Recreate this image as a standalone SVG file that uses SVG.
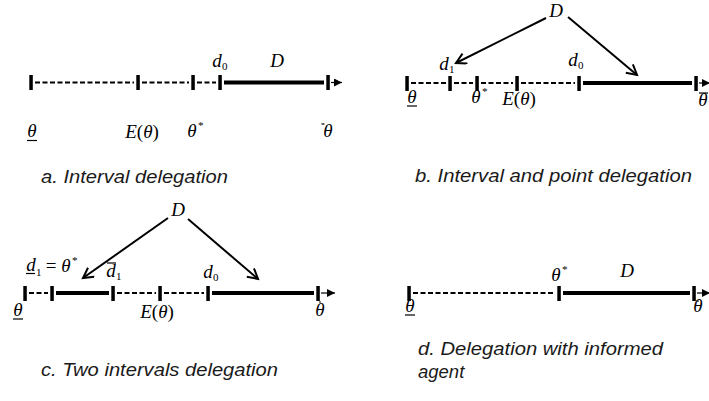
<svg xmlns="http://www.w3.org/2000/svg" width="709" height="401" viewBox="0 0 709 401">
<style>
.bg{fill:#fff}
.tick{fill:#000}
.dash{stroke:#000;stroke-width:2;stroke-dasharray:5 2.5;fill:none}
.solid{stroke:#000;stroke-width:4;fill:none}
.thin{stroke:#000;stroke-width:1.2;fill:none}
.ptr{stroke:#000;stroke-width:2;fill:none}
.m{font-family:"Liberation Serif","Times New Roman",serif;font-style:italic;font-size:19px;fill:#000}
.up{font-style:normal}
.sub{font-family:"Liberation Serif","Times New Roman",serif;font-size:11px;fill:#000}
.cap{font-family:"Liberation Sans",Arial,sans-serif;font-style:italic;font-size:18.5px;fill:#1a1a1a}
</style>
<defs>
<marker id="open" markerUnits="userSpaceOnUse" markerWidth="14" markerHeight="14" refX="11" refY="6" orient="auto">
<path d="M1,0.5 L11,6 L1,11.5" stroke="#000" stroke-width="2" fill="none"/>
</marker>
<marker id="tri" markerUnits="userSpaceOnUse" markerWidth="9" markerHeight="9" refX="8" refY="4" orient="auto">
<path d="M0,0 L8,4 L0,8 Z" fill="#000"/>
</marker>
</defs>
<rect class="bg" x="0" y="0" width="709" height="401"/>

<!-- Panel a -->
<g id="panel-a">
<g id="a-axis">
<path class="dash" d="M35,82.5 H134 M142,82.5 H189 M197,82.5 H216"/>
<path class="solid" d="M224,82.5 H324"/>
<path class="thin" d="M331,82.5 H342" marker-end="url(#tri)"/>
</g>
<g id="a-ticks">
<rect class="tick" x="29.3" y="75" width="3.5" height="15"/>
<rect class="tick" x="136.3" y="75" width="3.5" height="15"/>
<rect class="tick" x="191.3" y="75" width="3.5" height="15"/>
<rect class="tick" x="218.3" y="75" width="3.5" height="15"/>
<rect class="tick" x="326.3" y="75" width="3.5" height="15"/>
</g>
<g id="a-labels">
<text class="m" x="32" y="137" text-anchor="middle">θ</text>
<line class="thin" x1="27" y1="140.5" x2="37" y2="140.5"/>
<text class="m" x="142" y="138" text-anchor="middle">E<tspan class="up">(</tspan>θ<tspan class="up">)</tspan></text>
<text class="m" x="192" y="137" text-anchor="middle">θ</text>
<text class="sub" x="198" y="129">*</text>
<text class="m" x="217" y="67" text-anchor="middle">d</text>
<text class="sub" x="222" y="70">0</text>
<text class="m" x="277" y="67" text-anchor="middle">D</text>
<text class="m" x="328" y="137" text-anchor="middle">θ</text>
<line class="thin" x1="321.5" y1="124" x2="324.5" y2="124"/>
</g>
</g>

<!-- Panel b -->
<g id="panel-b">
<g id="b-axis">
<path class="dash" d="M411,83 H446 M454,83 H473 M481,83 H513 M521,83 H575"/>
<path class="solid" d="M583,83 H692"/>
<path class="thin" d="M699,83 H710" marker-end="url(#tri)"/>
</g>
<g id="b-ticks">
<rect class="tick" x="405.3" y="76" width="3.5" height="15"/>
<rect class="tick" x="448.3" y="76" width="3.5" height="15"/>
<rect class="tick" x="475.3" y="76" width="3.5" height="15"/>
<rect class="tick" x="515.3" y="76" width="3.5" height="15"/>
<rect class="tick" x="577.3" y="76" width="3.5" height="15"/>
<rect class="tick" x="694.3" y="76" width="3.5" height="15"/>
</g>
<g id="b-labels">
<text class="m" x="556" y="17" text-anchor="middle">D</text>
<text class="m" x="444" y="70" text-anchor="middle">d</text>
<text class="sub" x="449" y="73">1</text>
<text class="m" x="573" y="66" text-anchor="middle">d</text>
<text class="sub" x="578" y="69">0</text>
<text class="m" x="412" y="103" text-anchor="middle">θ</text>
<line class="thin" x1="407" y1="106" x2="417" y2="106"/>
<text class="m" x="476" y="103" text-anchor="middle">θ</text>
<text class="sub" x="482" y="95">*</text>
<text class="m" x="519" y="105" text-anchor="middle">E<tspan class="up">(</tspan>θ<tspan class="up">)</tspan></text>
<text class="m" x="703" y="106" text-anchor="middle">θ</text>
<line class="thin" x1="699" y1="93" x2="708" y2="93"/>
</g>
</g>

<!-- Panel c -->
<g id="panel-c">
<g id="c-axis">
<path class="dash" d="M29,293 H48 M117,293 H156 M164,293 H204"/>
<path class="solid" d="M56,293 H109 M212,293 H314"/>
<path class="thin" d="M321,293 H335" marker-end="url(#tri)"/>
</g>
<g id="c-ticks">
<rect class="tick" x="23.3" y="286" width="3.5" height="15"/>
<rect class="tick" x="50.3" y="286" width="3.5" height="15"/>
<rect class="tick" x="111.3" y="286" width="3.5" height="15"/>
<rect class="tick" x="158.3" y="286" width="3.5" height="15"/>
<rect class="tick" x="206.3" y="286" width="3.5" height="15"/>
<rect class="tick" x="316.3" y="286" width="3.5" height="15"/>
</g>
<g id="c-labels">
<text class="m" x="178" y="216" text-anchor="middle">D</text>
<text class="m" x="31" y="271" text-anchor="middle">d</text>
<line class="thin" x1="26" y1="273.5" x2="35" y2="273.5"/>
<text class="sub" x="36" y="276">1</text>
<text class="m up" x="51" y="272" text-anchor="middle">=</text>
<text class="m" x="66" y="272" text-anchor="middle">θ</text>
<text class="sub" x="72" y="264">*</text>
<line class="thin" x1="107" y1="263" x2="116" y2="263"/>
<text class="m" x="111" y="277" text-anchor="middle">d</text>
<text class="sub" x="116" y="280">1</text>
<text class="m" x="208" y="278" text-anchor="middle">d</text>
<text class="sub" x="213" y="281">0</text>
<text class="m" x="18" y="316" text-anchor="middle">θ</text>
<line class="thin" x1="13" y1="319" x2="23" y2="319"/>
<text class="m" x="157" y="318" text-anchor="middle">E<tspan class="up">(</tspan>θ<tspan class="up">)</tspan></text>
<text class="m" x="320" y="316" text-anchor="middle">θ</text>
<line class="thin" x1="319" y1="302" x2="321" y2="302"/>
</g>
</g>

<!-- Panel d -->
<g id="panel-d">
<g id="d-axis">
<path class="dash" d="M413,293 H555"/>
<path class="solid" d="M563,293 H690"/>
<path class="thin" d="M697,293 H710" marker-end="url(#tri)"/>
</g>
<g id="d-ticks">
<rect class="tick" x="407.3" y="286" width="3.5" height="15"/>
<rect class="tick" x="557.3" y="286" width="3.5" height="15"/>
<rect class="tick" x="692.3" y="286" width="3.5" height="15"/>
</g>
<g id="d-labels">
<text class="m" x="556" y="281" text-anchor="middle">θ</text>
<text class="sub" x="562" y="273">*</text>
<text class="m" x="627" y="277" text-anchor="middle">D</text>
<text class="m" x="410" y="312" text-anchor="middle">θ</text>
<line class="thin" x1="405" y1="315" x2="415" y2="315"/>
<text class="m" x="698" y="312" text-anchor="middle">θ</text>
<line class="thin" x1="697" y1="301" x2="699" y2="301"/>
</g>
</g>

<!-- Connectors -->
<g id="connectors">
<line class="ptr" x1="546" y1="18" x2="456" y2="63" marker-end="url(#open)"/>
<line class="ptr" x1="568" y1="17" x2="637" y2="75" marker-end="url(#open)"/>
<line class="ptr" x1="168" y1="218" x2="83" y2="278" marker-end="url(#open)"/>
<line class="ptr" x1="188" y1="219" x2="258" y2="279" marker-end="url(#open)"/>
</g>

<!-- Captions -->
<g id="captions">
<text class="cap" x="41" y="183" textLength="187" lengthAdjust="spacingAndGlyphs">a. Interval delegation</text>
<text class="cap" x="415" y="182" textLength="277" lengthAdjust="spacingAndGlyphs">b. Interval and point delegation</text>
<text class="cap" x="41" y="376" textLength="237" lengthAdjust="spacingAndGlyphs">c. Two intervals delegation</text>
<text class="cap" x="418" y="355" textLength="245" lengthAdjust="spacingAndGlyphs">d. Delegation with informed</text>
<text class="cap" x="418" y="378">agent</text>
</g>
</svg>
